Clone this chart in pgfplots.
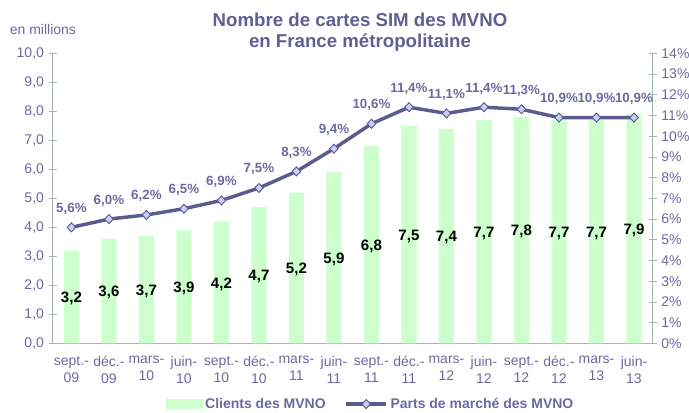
\documentclass[border=0pt]{standalone}
\usepackage{fontspec}
\setmainfont{Liberation Sans}
\usepackage{pgfplots}
\pgfplotsset{compat=1.18}
\usepackage{pgfplotstable}

\definecolor{bargreen}{HTML}{CCFFCC}
\definecolor{slate}{HTML}{5B5B8E}
\definecolor{lav}{HTML}{CCCCFF}
\definecolor{txt}{HTML}{6A6AA0}
\definecolor{ttl}{HTML}{5F5F94}
\definecolor{axgray}{HTML}{A4B4B4}

\pgfplotstableread{
x v lab p
0 3.2 1.55 5.6
1 3.6 1.75 6.0
2 3.7 1.80 6.2
3 3.9 1.90 6.5
4 4.2 2.05 6.9
5 4.7 2.30 7.5
6 5.2 2.55 8.3
7 5.9 2.90 9.4
8 6.8 3.35 10.6
9 7.5 3.70 11.4
10 7.4 3.65 11.1
11 7.7 3.80 11.4
12 7.8 3.85 11.3
13 7.7 3.80 10.9
14 7.7 3.80 10.9
15 7.9 3.90 10.9
}\data

\pgfplotsset{
  common/.style={
    at={(0,0)}, anchor=south west,
    scale only axis, width=450pt, height=217.5pt,
    xmin=-0.5, xmax=15.5,
    /pgf/number format/assume math mode=true,
    axis line style={axgray, line width=0.6pt},
    tick style={axgray, line width=0.6pt},
    ticklabel style={text=txt, font=\fontsize{10.5}{12}\selectfont},
  },
  linelegend/.style={legend image code/.code={\draw[##1, mark repeat=2, mark phase=2] plot coordinates {(0pt,0pt) (15pt,0pt) (30pt,0pt)};}},
  barlegend/.style={legend image code/.code={\fill[bargreen] (0pt,-3.5pt) rectangle (27pt,3.5pt);}},
}

\begin{document}
\begin{tikzpicture}[x=1pt,y=1pt]
\useasboundingbox (-39.5,-51.5) rectangle (477.2,257.5);
\begin{axis}[common,
  ymin=0, ymax=10, ytick={0,1,...,10},
  axis x line*=bottom, axis y line*=left,
  y tick label style={/pgf/number format/.cd, fixed, fixed zerofill, precision=1, use comma},
  ytick align=center, major tick length=6pt,
  xtick={0,...,15},
  x tick style={draw=none},
  minor xtick={-0.5,0.5,...,15.5},
  minor tick length=5pt,
  xtick align=outside,
  minor x tick style={axgray, line width=0.6pt},
  xticklabels={{sept.-\\09},{déc.-\\09},{mars-\\10},{juin-\\10},{sept.-\\10},{déc.-\\10},{mars-\\11},{juin-\\11},{sept.-\\11},{déc.-\\11},{mars-\\12},{juin-\\12},{sept.-\\12},{déc.-\\12},{mars-\\13},{juin-\\13}},
  xticklabel style={align=center, font=\fontsize{10.5}{12.75}\selectfont},
]
\addplot[ybar, bar width=11.5pt, fill=bargreen, draw=none] table[x=x, y=v] {\data};
\addplot[draw=none, mark=none, nodes near coords, point meta=explicit,
  every node near coord/.append style={anchor=center, text=black, font=\bfseries\fontsize{11.3}{13}\selectfont,
    /pgf/number format/.cd, fixed, fixed zerofill, precision=1, use comma}]
  table[x=x, y=lab, meta=v] {\data};
\end{axis}
\begin{axis}[common,
  ymin=0, ymax=14, ytick={0,1,...,14},
  axis y line*=right, axis x line=none,
  ytick align=center, major tick length=6pt,
  yticklabel={\pgfmathprintnumber{\tick}\%},
  y tick label style={/pgf/number format/.cd, fixed, precision=0},
  legend style={at={(axis description cs:0.5305,-0.2093)}, anchor=center, draw=none, fill=none,
    legend columns=2, font=\bfseries\fontsize{10.5}{12}\selectfont, text=txt,
    /tikz/every even column/.append style={column sep=12pt}},
]
\addlegendimage{barlegend}
\addlegendentry{Clients des MVNO}
\addplot[slate, line width=2.6pt, mark=diamond*, mark size=3.4pt,
  mark options={fill=lav, draw=slate, line width=0.7pt, xscale=1.25},
  linelegend,
  nodes near coords={\pgfmathprintnumber{\pgfplotspointmeta}\%}, point meta=explicit,
  every node near coord/.append style={anchor=center, yshift=14pt, text=txt, font=\bfseries\fontsize{10}{12}\selectfont,
    /pgf/number format/.cd, fixed, fixed zerofill, precision=1, use comma}]
  table[x=x, y=p, meta=p] {\data};
\addlegendentry{Parts de marché des MVNO}
\end{axis}
\node[text=ttl, font=\bfseries\fontsize{14}{16}\selectfont, align=center] at (230.5,233.2) {Nombre de cartes SIM des MVNO\\en France métropolitaine};
\node[text=txt, font=\fontsize{10.5}{12}\selectfont] at (-7.3,235.7) {en millions};
\end{tikzpicture}
\end{document}
